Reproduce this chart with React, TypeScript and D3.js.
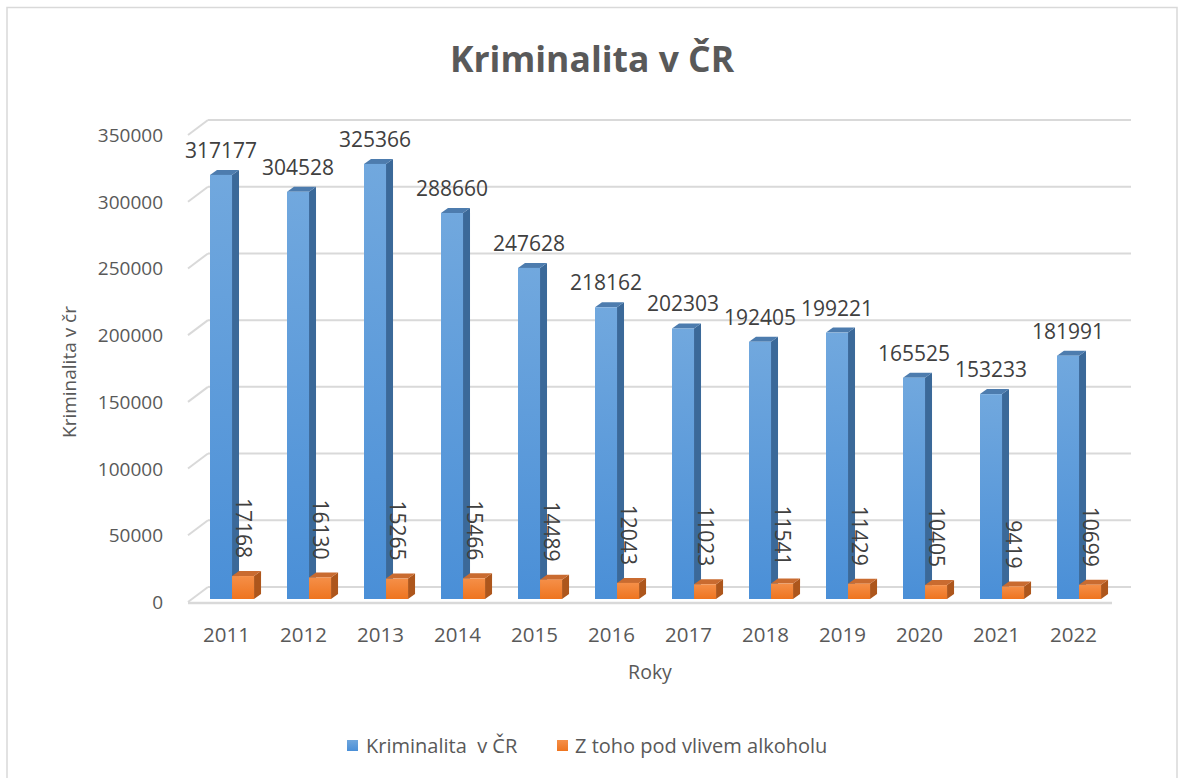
import React from "react";
import * as d3 from "d3";

const years = ["2011","2012","2013","2014","2015","2016","2017","2018","2019","2020","2021","2022"];
const crimeTotal = [317177,304528,325366,288660,247628,218162,202303,192405,199221,165525,153233,181991];
const crimeAlcohol = [17168,16130,15265,15466,14489,12043,11023,11541,11429,10405,9419,10699];
const yTicks = [0,50000,100000,150000,200000,250000,300000,350000];
const seriesNames = ["Kriminalita  v ČR", "Z toho pod vlivem alkoholu"];

const W = 1179, H = 778;
const FONT = "'Open Sans', 'Noto Sans', sans-serif";
const TXT = "#595959";

export default function App() {
  const x = d3.scaleBand<string>().domain(years).range([188, 1112]);
  const yBar = d3.scaleLinear().domain([0, 350000]).range([599, 131]);
  const yGrid = d3.scaleLinear().domain([0, 350000]).range([587, 120]);
  const depthX = 20, depthY = 15;
  const bw = x.bandwidth();
  const faceW = bw * 0.286;
  const sideDx = 7, sideDy = 5;

  const bar = (x0: number, v: number, front: string, side: string, top: string, key: string) => {
    const y0 = yBar(0);
    const y1 = yBar(v);
    const x1 = x0 + faceW;
    return (
      <g key={key}>
        <polygon points={`${x1},${y1} ${x1 + sideDx},${y1 - sideDy} ${x1 + sideDx},${y0 - sideDy} ${x1},${y0}`} fill={side} />
        <polygon points={`${x0},${y1} ${x0 + sideDx},${y1 - sideDy} ${x1 + sideDx},${y1 - sideDy} ${x1},${y1}`} fill={top} />
        <rect x={x0} y={y1} width={faceW} height={y0 - y1} fill={front} />
      </g>
    );
  };

  return (
    <svg width={W} height={H} style={{ position: "absolute", left: 0, top: 0, background: "#fff" }}>
      <defs>
        <linearGradient id="gBlue" x1="0" y1="0" x2="0" y2="1">
          <stop offset="0%" stopColor="#71a8de" />
          <stop offset="100%" stopColor="#4a8fd7" />
        </linearGradient>
        <linearGradient id="gOrange" x1="0" y1="0" x2="0" y2="1">
          <stop offset="0%" stopColor="#f58f48" />
          <stop offset="100%" stopColor="#ee741f" />
        </linearGradient>
        <linearGradient id="gBlueLeg" x1="0" y1="0" x2="0" y2="1">
          <stop offset="0%" stopColor="#6fa6dd" />
          <stop offset="100%" stopColor="#4a8fd7" />
        </linearGradient>
      </defs>
      <rect x={7} y={7.5} width={1170} height={800} fill="#fff" stroke="#d9d9d9" strokeWidth={1.5} />

      <text x={592} y={72} textAnchor="middle" fontFamily={FONT} fontWeight={700} fontSize={35.5} fill={TXT}>Kriminalita v ČR</text>

      {/* gridlines */}
      {yTicks.map((t) => (
        <g key={t} stroke="#d9d9d9" strokeWidth={2} fill="none">
          <line x1={188 + depthX} x2={1131} y1={yGrid(t)} y2={yGrid(t)} />
          <line x1={188} y1={yGrid(t) + depthY} x2={188 + depthX} y2={yGrid(t)} />
        </g>
      ))}
      {/* floor front edge */}
      <line x1={188} x2={1112} y1={yGrid(0) + depthY + 1} y2={yGrid(0) + depthY + 1} stroke="#d9d9d9" strokeWidth={2.5} />

      {/* y tick labels */}
      {yTicks.map((t) => (
        <text key={t} x={163} y={yGrid(t) + depthY + 7} textAnchor="end" fontFamily={FONT} fontSize={19} fill={TXT}>{t}</text>
      ))}

      {/* bars */}
      {years.map((yr, i) => {
        const bx = (x(yr) as number) + 22;
        return (
          <g key={yr}>
            {bar(bx, crimeTotal[i], "url(#gBlue)", "#3b6999", "#4d7cae", "b" + yr)}
            {bar(bx + faceW, crimeAlcohol[i], "url(#gOrange)", "#ad561c", "#c96b30", "o" + yr)}
          </g>
        );
      })}

      {/* blue labels */}
      {years.map((yr, i) => (
        <text key={"lb" + yr} x={(x(yr) as number) + 22 + faceW / 2} y={yBar(crimeTotal[i]) - sideDy - 12}
          textAnchor="middle" fontFamily={FONT} fontSize={21} fill="#404040">{crimeTotal[i]}</text>
      ))}
      {/* orange labels rotated */}
      {years.map((yr, i) => {
        const cx = (x(yr) as number) + 22 + faceW * 1.5;
        const yy = yBar(crimeAlcohol[i]) - sideDy - 13;
        return (
          <text key={"lo" + yr} transform={`translate(${cx},${yy}) rotate(90)`} x={0} y={0} dy="0.35em"
            textAnchor="end" fontFamily={FONT} fontSize={21} fill="#404040">{crimeAlcohol[i]}</text>
        );
      })}

      {/* x labels */}
      {years.map((yr) => (
        <text key={"x" + yr} x={(x(yr) as number) + bw / 2} y={642} textAnchor="middle" fontFamily={FONT} fontSize={20.5} fill={TXT}>{yr}</text>
      ))}

      <text x={650} y={679} textAnchor="middle" fontFamily={FONT} fontSize={19.5} fill={TXT}>Roky</text>
      <text transform={`translate(76,372) rotate(-90)`} textAnchor="middle" fontFamily={FONT} fontSize={19} fill={TXT}>Kriminalita v čr</text>

      {/* legend */}
      <rect x={347} y={740} width={11} height={11} fill="url(#gBlueLeg)" />
      <text x={366} y={753} fontFamily={FONT} fontSize={20} fill={TXT} style={{ whiteSpace: "pre" }}>{seriesNames[0]}</text>
      <rect x={557} y={740} width={11} height={11} fill="url(#gOrange)" />
      <text x={575} y={753} fontFamily={FONT} fontSize={20} fill={TXT}>{seriesNames[1]}</text>
    </svg>
  );
}
